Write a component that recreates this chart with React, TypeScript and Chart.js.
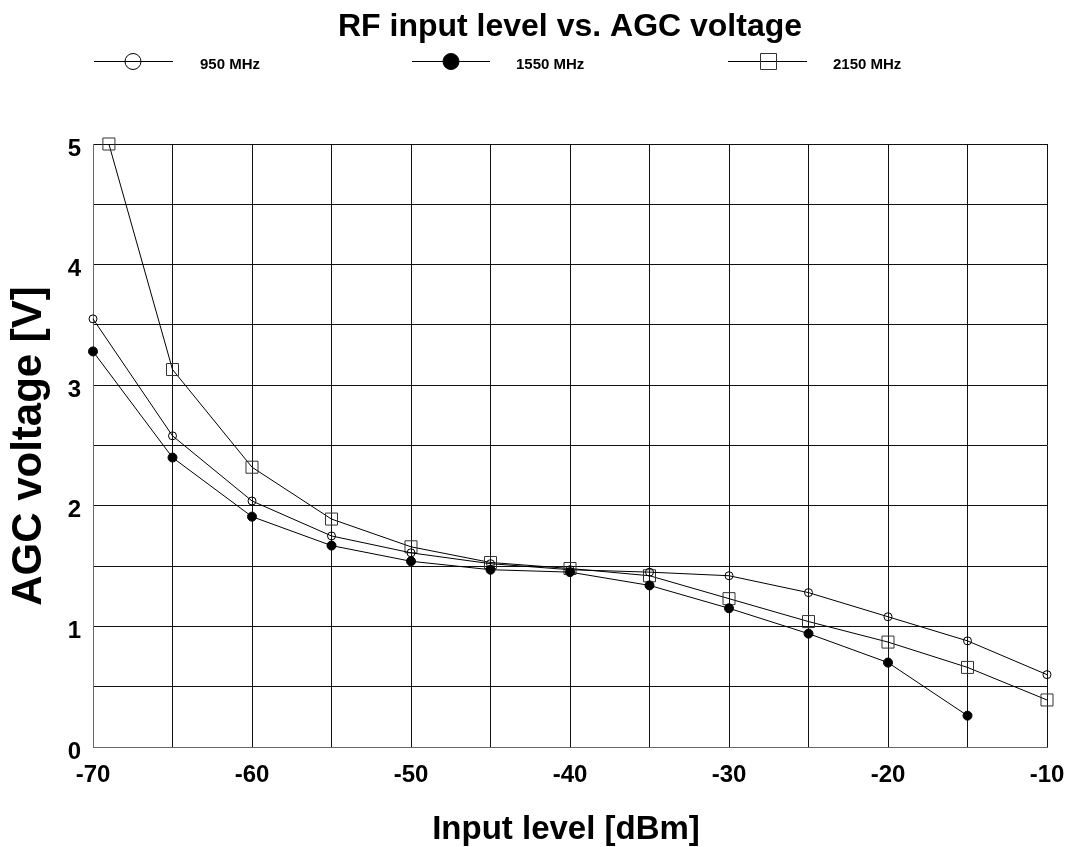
import React, { useEffect, useRef } from "react";
import { Chart, registerables } from "chart.js";

Chart.register(...registerables);

const TITLE = "RF input level vs. AGC voltage";
const X_TITLE = "Input level [dBm]";
const Y_TITLE = "AGC voltage [V]";
const SERIES_NAMES = ["950 MHz", "1550 MHz", "2150 MHz"];

const x950 = [-70, -65, -60, -55, -50, -45, -40, -35, -30, -25, -20, -15, -10];
const v950 = [3.55, 2.58, 2.04, 1.75, 1.61, 1.52, 1.47, 1.45, 1.42, 1.28, 1.08, 0.88, 0.6];

const x1550 = [-70, -65, -60, -55, -50, -45, -40, -35, -30, -25, -20, -15];
const v1550 = [3.28, 2.4, 1.91, 1.67, 1.54, 1.47, 1.45, 1.34, 1.15, 0.94, 0.7, 0.26];

const x2150 = [-69, -65, -60, -55, -50, -45, -40, -35, -30, -25, -20, -15, -10];
const v2150 = [5.0, 3.13, 2.32, 1.89, 1.66, 1.53, 1.48, 1.42, 1.23, 1.04, 0.87, 0.66, 0.39];

const xLabelTicks = [-70, -60, -50, -40, -30, -20, -10];
const yLabelTicks = [0, 1, 2, 3, 4, 5];

const FONT = '"Liberation Sans", Arial, Helvetica, sans-serif';

const toPoints = (xs: number[], ys: number[]) => xs.map((x, i) => ({ x, y: ys[i] }));

const textPlugin = {
  id: "textPlugin",
  afterDraw(chart: any) {
    const ctx = chart.ctx as CanvasRenderingContext2D;
    ctx.save();
    ctx.fillStyle = "#000";
    // title
    ctx.font = `bold 32px ${FONT}`;
    ctx.textAlign = "center";
    ctx.textBaseline = "alphabetic";
    ctx.fillText(TITLE, 570, 36);

    // legend
    const items = [
      { x0: 94, x1: 173, mx: 133, tx: 200, style: "open" },
      { x0: 412, x1: 490, mx: 451, tx: 516, style: "filled" },
      { x0: 728, x1: 807, mx: 768, tx: 833, style: "square" },
    ];
    const ly = 61;
    items.forEach((it, i) => {
      ctx.strokeStyle = "#000";
      ctx.lineWidth = 1;
      ctx.beginPath();
      ctx.moveTo(it.x0, ly + 0.5);
      ctx.lineTo(it.x1, ly + 0.5);
      ctx.stroke();
      ctx.beginPath();
      if (it.style === "square") {
        ctx.strokeStyle = "#333";
        ctx.rect(it.mx - 8 + 0.5, ly - 8 + 0.5, 16, 16);
        ctx.stroke();
      } else {
        ctx.arc(it.mx, ly + 0.5, 8, 0, Math.PI * 2);
        if (it.style === "filled") {
          ctx.fillStyle = "#000";
          ctx.fill();
        }
        ctx.stroke();
      }
      ctx.fillStyle = "#000";
      ctx.font = `bold 15px ${FONT}`;
      ctx.textAlign = "left";
      ctx.textBaseline = "middle";
      ctx.fillText(SERIES_NAMES[i], it.tx, ly + 4);
    });

    // x title
    ctx.font = `bold 33px ${FONT}`;
    ctx.textAlign = "center";
    ctx.textBaseline = "alphabetic";
    ctx.fillText(X_TITLE, 566, 839);

    // y title
    ctx.save();
    ctx.translate(41, 446);
    ctx.rotate(-Math.PI / 2);
    ctx.font = `bold 42px ${FONT}`;
    ctx.textAlign = "center";
    ctx.textBaseline = "alphabetic";
    ctx.fillText(Y_TITLE, 0, 0);
    ctx.restore();

    ctx.restore();
  },
};

export default function App() {
  const ref = useRef<HTMLCanvasElement | null>(null);

  useEffect(() => {
    if (!ref.current) return;
    const lineBase = {
      showLine: true,
      clip: false as const,
      borderColor: "#000",
      borderWidth: 1,
      tension: 0,
      pointBorderColor: "#000",
      pointBorderWidth: 1,
    };
    const chart = new Chart(ref.current, {
      type: "scatter",
      data: {
        datasets: [
          {
            ...lineBase,
            label: SERIES_NAMES[0],
            data: toPoints(x950, v950),
            pointStyle: "circle",
            pointRadius: 4,
            pointBackgroundColor: "rgba(0,0,0,0)",
            backgroundColor: "rgba(0,0,0,0)",
          },
          {
            ...lineBase,
            label: SERIES_NAMES[1],
            data: toPoints(x1550, v1550),
            pointStyle: "circle",
            pointRadius: 4.5,
            pointBackgroundColor: "#000",
            backgroundColor: "#000",
          },
          {
            ...lineBase,
            label: SERIES_NAMES[2],
            data: toPoints(x2150, v2150),
            pointStyle: "rect",
            pointRadius: 8.5,
            pointBorderColor: "#333",
            pointBackgroundColor: "rgba(0,0,0,0)",
            backgroundColor: "rgba(0,0,0,0)",
          },
        ],
      },
      options: {
        responsive: false,
        animation: false,
        devicePixelRatio: 1,
        layout: { padding: { top: 144, right: 20, left: 0, bottom: 0 } },
        plugins: {
          legend: { display: false },
          title: { display: false },
          tooltip: { enabled: false },
        },
        scales: {
          x: {
            type: "linear",
            min: -70,
            max: -10,
            afterFit: (s: any) => {
              s.height = 100;
              s.paddingLeft = 0;
              s.paddingRight = 0;
            },
            ticks: {
              stepSize: 5,
              padding: 14,
              color: "#000",
              font: { family: FONT, size: 24, weight: "bold" },
              maxRotation: 0,
              autoSkip: false,
              callback: (v: any) => (xLabelTicks.includes(Number(v)) ? String(v) : ""),
            },
            grid: { color: "#111", lineWidth: 1, drawTicks: false },
            border: { color: "#666", width: 1 },
          },
          y: {
            type: "linear",
            min: 0,
            max: 5,
            afterFit: (s: any) => {
              s.width = 93;
              s.paddingTop = 0;
              s.paddingBottom = 0;
            },
            ticks: {
              stepSize: 0.5,
              padding: 12,
              labelOffset: 5,
              color: "#000",
              font: { family: FONT, size: 24, weight: "bold" },
              autoSkip: false,
              callback: (v: any) => (yLabelTicks.includes(Number(v)) ? String(v) : ""),
            },
            grid: { color: "#111", lineWidth: 1, drawTicks: false },
            border: { color: "#666", width: 1 },
          },
        },
      },
      plugins: [textPlugin],
    });
    return () => chart.destroy();
  }, []);

  return (
    <div style={{ position: "absolute", left: 0, top: 0, width: 1067, height: 847, background: "#fff" }}>
      <canvas ref={ref} width={1067} height={847} style={{ display: "block" }} />
    </div>
  );
}
